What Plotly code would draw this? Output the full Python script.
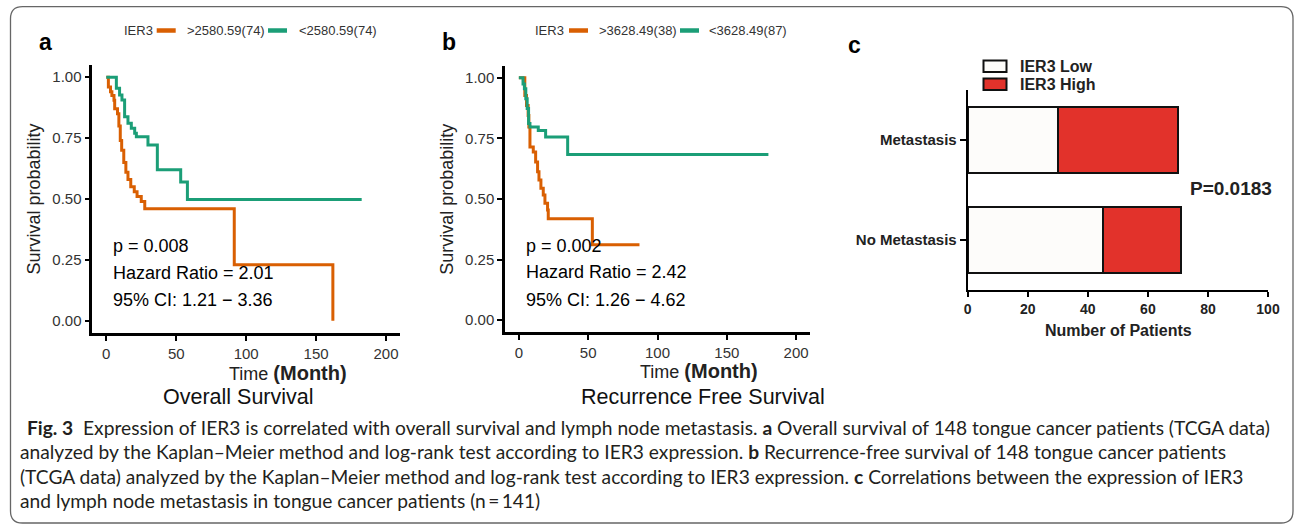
import plotly.graph_objects as go

W, H = 1295, 524

# ---------------- data ----------------
# Panel a: Overall survival (Kaplan-Meier step points)
os_high_t = [0, 1.5, 3, 4, 5.5, 6, 8, 9, 10, 11, 12.5, 14, 15.5, 17.5, 20, 22, 25, 27.5, 91.5, 162]
os_high_s = [1, 0.96, 0.94, 0.925, 0.905, 0.87, 0.85, 0.80, 0.74, 0.70, 0.65, 0.61, 0.58, 0.55, 0.53, 0.51, 0.49, 0.46, 0.23, 0.0]
os_low_t = [0, 7.2, 9.5, 11.2, 13.1, 15.5, 17.9, 20.3, 21.5, 29.8, 36.5, 53.2, 58, 182.6]
os_low_s = [1, 0.955, 0.927, 0.906, 0.838, 0.811, 0.79, 0.77, 0.756, 0.722, 0.62, 0.57, 0.498, 0.498]
os_labels = [">2580.59(74)", "<2580.59(74)"]
os_stats = ["p = 0.008", "Hazard Ratio = 2.01", "95% CI: 1.21 \u2212 3.36"]

# Panel b: Recurrence free survival
rfs_high_t = [0, 4.3, 5.5, 6.7, 7.2, 8, 10.4, 12.1, 13.5, 14.5, 15.9, 17.6, 18.8, 20.7, 21.2, 53, 87]
rfs_high_s = [1, 0.927, 0.886, 0.845, 0.797, 0.715, 0.694, 0.653, 0.612, 0.578, 0.544, 0.516, 0.482, 0.455, 0.418, 0.311, 0.311]
rfs_low_t = [0, 3, 4, 5, 6, 7, 8, 14, 19.3, 35.2, 180]
rfs_low_s = [1, 0.975, 0.955, 0.914, 0.873, 0.811, 0.797, 0.783, 0.756, 0.684, 0.684]
rfs_labels = [">3628.49(38)", "<3628.49(87)"]
rfs_stats = ["p = 0.002", "Hazard Ratio = 2.42", "95% CI: 1.26 \u2212 4.62"]

# Panel c: metastasis vs IER3
categories = ["No Metastasis", "Metastasis"]
ier3_low = [45, 30]
ier3_high = [26, 40]

km_ticks = [0, 50, 100, 150, 200]
surv_ticks = [0, 0.25, 0.5, 0.75, 1.0]
surv_ticklabels = ["0.00", "0.25", "0.50", "0.75", "1.00"]
pat_ticks = [0, 20, 40, 60, 80, 100]

ORANGE = "#D95F02"
GREEN = "#1B9E77"
LOWC = "#FDFCFA"
HIGHC = "#E2322B"
FONT = "Liberation Sans, Arial, sans-serif"
CAPFONT = "Lato, Open Sans, sans-serif"


def fx(x):
    return x / W


def fy(y):
    return 1 - y / H


fig = go.Figure()

# KM traces
fig.add_trace(go.Scatter(x=os_high_t, y=os_high_s, mode="lines", line=dict(color=ORANGE, width=3, shape="hv"),
                         xaxis="x", yaxis="y", showlegend=False, name=os_labels[0]))
fig.add_trace(go.Scatter(x=os_low_t, y=os_low_s, mode="lines", line=dict(color=GREEN, width=3, shape="hv"),
                         xaxis="x", yaxis="y", showlegend=False, name=os_labels[1]))
fig.add_trace(go.Scatter(x=rfs_high_t, y=rfs_high_s, mode="lines", line=dict(color=ORANGE, width=3, shape="hv"),
                         xaxis="x2", yaxis="y2", showlegend=False, name=rfs_labels[0]))
fig.add_trace(go.Scatter(x=rfs_low_t, y=rfs_low_s, mode="lines", line=dict(color=GREEN, width=3, shape="hv"),
                         xaxis="x2", yaxis="y2", showlegend=False, name=rfs_labels[1]))

# Bars
fig.add_trace(go.Bar(y=categories, x=ier3_low, orientation="h", xaxis="x3", yaxis="y3", width=0.667,
                     marker=dict(color=LOWC, line=dict(color="#111", width=2)), showlegend=False, name="IER3 Low"))
fig.add_trace(go.Bar(y=categories, x=ier3_high, orientation="h", xaxis="x3", yaxis="y3", width=0.667,
                     marker=dict(color=HIGHC, line=dict(color="#111", width=2)), showlegend=False, name="IER3 High"))

km_x = dict(range=[-10, 210], tickvals=km_ticks, showline=True, linecolor="black", linewidth=2.5,
            ticks="outside", ticklen=5, tickwidth=2, tickcolor="black", showgrid=False, zeroline=False,
            automargin=False, tickfont=dict(family=FONT, size=15, color="#333"))
km_y = dict(range=[-0.05, 1.05], tickvals=surv_ticks, ticktext=surv_ticklabels, showline=True, linecolor="black",
            linewidth=2.5, ticks="outside", ticklen=5, tickwidth=2, tickcolor="black", showgrid=False,
            zeroline=False, automargin=False, tickfont=dict(family=FONT, size=15, color="#333"))

fig.update_layout(
    template="none",
    width=W, height=H, margin=dict(l=0, r=0, t=0, b=0, pad=0), autosize=False,
    paper_bgcolor="white", plot_bgcolor="rgba(0,0,0,0)",
    barmode="stack", bargap=0.33,
    xaxis=dict(domain=[fx(92.3), fx(400)], anchor="y", **km_x),
    yaxis=dict(domain=[fy(333), fy(65)], anchor="x", **km_y),
    xaxis2=dict(domain=[fx(505), fx(810)], anchor="y2", **km_x),
    yaxis2=dict(domain=[fy(332.3), fy(65.7)], anchor="x2", **km_y),
    xaxis3=dict(domain=[fx(967.7), fx(1268)], anchor="y3", range=[0, 100], tickvals=pat_ticks,
                showline=True, linecolor="black", linewidth=2, ticks="outside", ticklen=5, tickwidth=2,
                tickcolor="black", showgrid=False, zeroline=False, automargin=False,
                tickfont=dict(family=FONT, size=14, color="#222", weight="bold")),
    yaxis3=dict(domain=[fy(290), fy(90)], anchor="x3", range=[-0.5, 1.5], type="category",
                categoryorder="array", categoryarray=categories,
                showline=True, linecolor="black", linewidth=2, ticks="outside", ticklen=6, tickwidth=2,
                tickcolor="black", showgrid=False, zeroline=False, automargin=False,
                tickfont=dict(family=FONT, size=15, color="#222", weight="bold")),
)

ann = []
shapes = []


def text(x, y, s, size, xanchor="left", yanchor="middle", color="black", bold=False, family=FONT, angle=0):
    ann.append(dict(xref="paper", yref="paper", x=fx(x), y=fy(y), text=s, showarrow=False,
                    xanchor=xanchor, yanchor=yanchor, textangle=angle,
                    font=dict(family=family, size=size, color=color, weight="bold" if bold else "normal")))


# panel labels
text(37, 42, "a", 23, bold=True)
text(440, 42, "b", 23, bold=True)
text(846, 45, "c", 23, bold=True)

# KM legends
for (x0, items, labels) in [(121.7, (156.7, 185, 268, 296.7), os_labels), (533.3, (569, 596.7, 680, 707), rfs_labels)]:
    text(x0, 30.5, "IER3", 13, color="#333")
    shapes.append(dict(type="line", xref="paper", yref="paper", x0=fx(items[0]), x1=fx(items[0] + 19),
                       y0=fy(30.5), y1=fy(30.5), line=dict(color=ORANGE, width=4.5)))
    text(items[1], 30.5, labels[0], 13, color="#333")
    shapes.append(dict(type="line", xref="paper", yref="paper", x0=fx(items[2]), x1=fx(items[2] + 19),
                       y0=fy(30.5), y1=fy(30.5), line=dict(color=GREEN, width=4.5)))
    text(items[3], 30.5, labels[1], 13, color="#333")

# KM axis titles & panel titles
text(33, 199.5, "Survival probability", 18, xanchor="center", color="#222", angle=-90)
text(446.7, 199, "Survival probability", 18, xanchor="center", color="#222", angle=-90)
text(227, 373, "Time <b><span style='font-size:20px'>(Month)</span></b>", 18, color="#222")
text(638, 371, "Time <b><span style='font-size:20px'>(Month)</span></b>", 18, color="#222")
text(239, 397, "Overall Survival", 21.5, xanchor="center", color="#111")
text(702.5, 397, "Recurrence Free Survival", 21.5, xanchor="center", color="#111")

# KM stats annotations (data coordinates)
for (xr, yr, stats) in [("x", "y", os_stats), ("x2", "y2", rfs_stats)]:
    for s, yy in zip(stats, [0.307, 0.198, 0.085]):
        ann.append(dict(xref=xr, yref=yr, x=3.5, y=yy, text=s, showarrow=False, xanchor="left",
                        yanchor="middle", font=dict(family=FONT, size=18, color="black")))

# panel c legend
for (yc, col, lab) in [(66.2, LOWC, "IER3 Low"), (84.2, HIGHC, "IER3 High")]:
    shapes.append(dict(type="rect", xref="paper", yref="paper", x0=fx(983.5), x1=fx(1006.5),
                       y0=fy(yc - 5.8), y1=fy(yc + 5.8), fillcolor=col, line=dict(color="#111", width=2)))
    text(1017.7, yc, lab, 16, color="#222", bold=True)

text(1118, 330, "Number of Patients", 16, xanchor="center", color="#222", bold=True)
text(1188.3, 188.3, "P=0.0183", 19, color="#222", bold=True)

# caption
cap = [
    (25, 427, "<b>Fig. 3</b>  Expression of IER3 is correlated with overall survival and lymph node metastasis. "
              "<b>a</b> Overall survival of 148 tongue cancer patients (TCGA data)"),
    (18, 451.5, "analyzed by the Kaplan\u2013Meier method and log-rank test according to IER3 expression. "
                "<b>b</b> Recurrence-free survival of 148 tongue cancer patients"),
    (18, 476, "(TCGA data) analyzed by the Kaplan\u2013Meier method and log-rank test according to IER3 expression. "
              "<b>c</b> Correlations between the expression of IER3"),
    (18, 500.5, "and lymph node metastasis in tongue cancer patients (n\u2009=\u2009141)"),
]
for x, y, s in cap:
    text(x, y, s, 19.2, color="#231f20", family=CAPFONT)

# rounded frame
r = 12
L, T, R, B = 10.5, 6.7, 1293, 523
px = lambda v: v / W
py = lambda v: 1 - v / H
path = (f"M {px(L + r)},{py(T)} L {px(R - r)},{py(T)} Q {px(R)},{py(T)} {px(R)},{py(T + r)} "
        f"L {px(R)},{py(B - r)} Q {px(R)},{py(B)} {px(R - r)},{py(B)} "
        f"L {px(L + r)},{py(B)} Q {px(L)},{py(B)} {px(L)},{py(B - r)} "
        f"L {px(L)},{py(T + r)} Q {px(L)},{py(T)} {px(L + r)},{py(T)} Z")
shapes.append(dict(type="path", xref="paper", yref="paper", path=path, line=dict(color="#666", width=1.3)))

fig.update_layout(annotations=ann, shapes=shapes)
fig.write_html("out.html")
